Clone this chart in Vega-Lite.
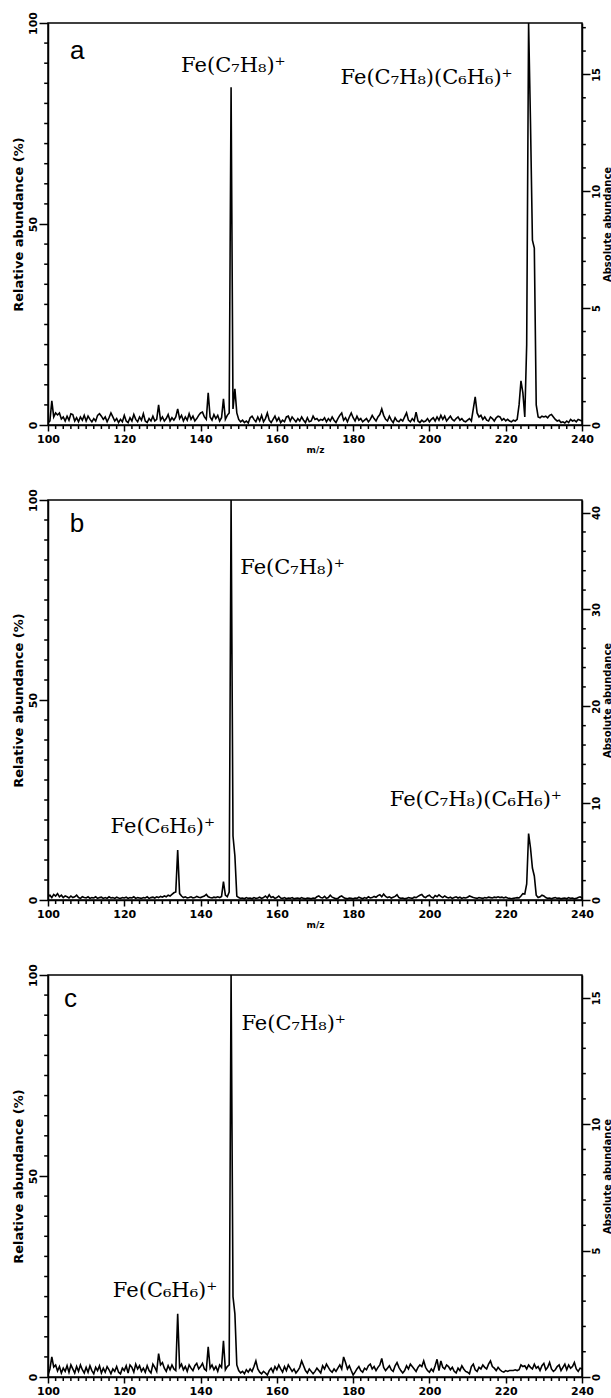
{
"$schema":"https://vega.github.io/schema/vega-lite/v6.json",
"background":"white",
"padding":{"left":11,"top":10,"right":0,"bottom":0},
"spacing":32,
"config":{"view":{"stroke":"black","strokeWidth":1.5},
"axis":{"domainColor":"black","tickColor":"black","labelColor":"black","titleColor":"black","grid":false,"ticks":true,"labelFont":"DejaVu Sans","labelFontWeight":"bold","labelFontSize":11,"titleFont":"DejaVu Sans","titleFontWeight":"bold","labelFlush":false,"labelOverlap":false,"domainWidth":1.5,"tickWidth":1.5}},
"datasets":{
"spec":[
{"mz":100,"a":0.5,"b":0.8,"c":0.5},{"mz":100.5,"a":1.0,"b":1.2,"c":2.0},{"mz":101,"a":6.0,"b":0.6,"c":5.0},{"mz":101.5,"a":2.0,"b":1.4,"c":2.5},{"mz":102,"a":3.0,"b":1.0,"c":3.0},{"mz":102.5,"a":2.5,"b":1.6,"c":1.5},{"mz":103,"a":3.0,"b":0.8,"c":2.6},{"mz":103.5,"a":1.5,"b":1.2,"c":1.0},{"mz":104,"a":2.0,"b":0.6,"c":2.2},{"mz":104.5,"a":1.0,"b":1.0,"c":1.4},
{"mz":105,"a":2.2,"b":0.8,"c":2.8},{"mz":105.5,"a":1.2,"b":0.5,"c":1.2},{"mz":106,"a":2.8,"b":1.0,"c":3.0},{"mz":106.5,"a":2.6,"b":0.6,"c":2.0},{"mz":107,"a":1.0,"b":0.8,"c":1.0},{"mz":107.5,"a":1.8,"b":1.2,"c":2.6},{"mz":108,"a":0.8,"b":0.6,"c":1.4},{"mz":108.5,"a":2.0,"b":0.4,"c":3.0},{"mz":109,"a":1.2,"b":0.8,"c":1.8},{"mz":109.5,"a":2.4,"b":0.6,"c":1.0},
{"mz":110,"a":1.0,"b":0.5,"c":2.4},{"mz":110.5,"a":2.2,"b":0.8,"c":1.2},{"mz":111,"a":1.4,"b":0.4,"c":2.8},{"mz":111.5,"a":0.8,"b":0.6,"c":1.6},{"mz":112,"a":1.6,"b":0.5,"c":0.8},{"mz":112.5,"a":1.0,"b":0.8,"c":2.4},{"mz":113,"a":2.4,"b":0.4,"c":1.6},{"mz":113.5,"a":2.8,"b":0.6,"c":2.8},{"mz":114,"a":2.2,"b":0.7,"c":1.0},{"mz":114.5,"a":1.4,"b":0.4,"c":2.2},
{"mz":115,"a":2.0,"b":0.6,"c":1.2},{"mz":115.5,"a":0.8,"b":0.4,"c":2.6},{"mz":116,"a":1.8,"b":0.8,"c":1.8},{"mz":116.5,"a":3.0,"b":0.5,"c":0.8},{"mz":117,"a":2.0,"b":0.6,"c":2.0},{"mz":117.5,"a":1.0,"b":0.4,"c":1.4},{"mz":118,"a":1.6,"b":0.7,"c":2.6},{"mz":118.5,"a":0.6,"b":0.5,"c":1.2},{"mz":119,"a":1.4,"b":0.4,"c":0.8},{"mz":119.5,"a":0.8,"b":0.6,"c":2.2},
{"mz":120,"a":2.4,"b":0.5,"c":1.6},{"mz":120.5,"a":1.0,"b":0.7,"c":2.8},{"mz":121,"a":0.6,"b":0.4,"c":1.0},{"mz":121.5,"a":1.8,"b":0.6,"c":3.0},{"mz":122,"a":1.0,"b":0.5,"c":2.4},{"mz":122.5,"a":2.6,"b":0.8,"c":1.2},{"mz":123,"a":1.4,"b":0.4,"c":3.2},{"mz":123.5,"a":0.8,"b":0.6,"c":2.0},{"mz":124,"a":2.0,"b":0.5,"c":2.8},{"mz":124.5,"a":1.2,"b":0.4,"c":1.4},
{"mz":125,"a":2.8,"b":0.6,"c":2.2},{"mz":125.5,"a":1.0,"b":0.5,"c":1.2},{"mz":126,"a":0.6,"b":0.8,"c":2.8},{"mz":126.5,"a":1.6,"b":0.4,"c":1.6},{"mz":127,"a":1.0,"b":0.6,"c":1.0},{"mz":127.5,"a":2.2,"b":0.7,"c":3.2},{"mz":128,"a":1.0,"b":0.5,"c":2.4},{"mz":128.5,"a":1.4,"b":0.8,"c":1.4},{"mz":129,"a":5.0,"b":0.6,"c":5.8},{"mz":129.5,"a":1.2,"b":0.9,"c":3.0},
{"mz":130,"a":2.0,"b":0.7,"c":3.6},{"mz":130.5,"a":1.0,"b":1.0,"c":2.2},{"mz":131,"a":1.6,"b":0.8,"c":1.4},{"mz":131.5,"a":2.6,"b":1.2,"c":2.8},{"mz":132,"a":1.0,"b":1.0,"c":1.8},{"mz":132.5,"a":1.8,"b":1.4,"c":3.0},{"mz":133,"a":1.2,"b":1.8,"c":2.0},{"mz":133.5,"a":2.0,"b":2.0,"c":1.6},{"mz":134,"a":4.0,"b":12.5,"c":15.7},{"mz":134.5,"a":1.6,"b":1.6,"c":2.4},
{"mz":135,"a":2.4,"b":1.0,"c":3.2},{"mz":135.5,"a":1.0,"b":0.6,"c":1.8},{"mz":136,"a":2.0,"b":0.8,"c":2.6},{"mz":136.5,"a":1.2,"b":0.5,"c":1.4},{"mz":137,"a":2.8,"b":0.6,"c":3.0},{"mz":137.5,"a":1.4,"b":0.8,"c":2.2},{"mz":138,"a":2.2,"b":0.5,"c":1.6},{"mz":138.5,"a":1.0,"b":0.6,"c":2.8},{"mz":139,"a":1.6,"b":0.9,"c":3.4},{"mz":139.5,"a":2.4,"b":0.7,"c":2.0},
{"mz":140,"a":3.0,"b":0.6,"c":2.6},{"mz":140.5,"a":3.2,"b":0.8,"c":3.4},{"mz":141,"a":2.0,"b":1.0,"c":2.0},{"mz":141.5,"a":1.4,"b":1.4,"c":1.6},{"mz":142,"a":8.0,"b":0.8,"c":7.5},{"mz":142.5,"a":2.0,"b":0.6,"c":2.2},{"mz":143,"a":1.2,"b":0.5,"c":3.0},{"mz":143.5,"a":2.6,"b":0.7,"c":1.8},{"mz":144,"a":1.6,"b":0.6,"c":2.6},{"mz":144.5,"a":2.4,"b":0.8,"c":1.4},
{"mz":145,"a":1.0,"b":0.6,"c":3.0},{"mz":145.5,"a":1.8,"b":0.9,"c":2.4},{"mz":146,"a":6.5,"b":4.6,"c":9.0},{"mz":146.5,"a":1.4,"b":1.2,"c":1.8},{"mz":147,"a":2.4,"b":0.8,"c":2.6},{"mz":147.5,"a":3.0,"b":2.0,"c":3.0},{"mz":148,"a":84.0,"b":100,"c":100},{"mz":148.5,"a":4.0,"b":16,"c":20},{"mz":149,"a":9.0,"b":11,"c":15.7},{"mz":149.5,"a":3.0,"b":1.0,"c":3.0},
{"mz":150,"a":1.4,"b":0.6,"c":1.6},{"mz":150.5,"a":0.8,"b":0.4,"c":1.0},{"mz":151,"a":1.2,"b":0.5,"c":1.4},{"mz":151.5,"a":0.6,"b":0.3,"c":0.8},{"mz":152,"a":1.0,"b":0.6,"c":1.8},{"mz":152.5,"a":0.5,"b":0.4,"c":1.2},{"mz":153,"a":1.8,"b":0.5,"c":2.0},{"mz":153.5,"a":2.2,"b":0.3,"c":1.4},{"mz":154,"a":1.4,"b":0.6,"c":2.6},{"mz":154.5,"a":0.8,"b":0.4,"c":4.0},
{"mz":155,"a":2.0,"b":0.5,"c":2.0},{"mz":155.5,"a":1.0,"b":0.7,"c":1.2},{"mz":156,"a":2.4,"b":0.4,"c":0.8},{"mz":156.5,"a":0.8,"b":0.6,"c":1.4},{"mz":157,"a":1.6,"b":1.0,"c":1.0},{"mz":157.5,"a":3.0,"b":0.5,"c":0.5},{"mz":158,"a":1.2,"b":1.3,"c":1.6},{"mz":158.5,"a":0.6,"b":0.6,"c":2.2},{"mz":159,"a":1.4,"b":0.8,"c":1.2},{"mz":159.5,"a":2.2,"b":0.4,"c":2.6},
{"mz":160,"a":1.0,"b":0.6,"c":1.8},{"mz":160.5,"a":1.8,"b":1.0,"c":3.0},{"mz":161,"a":0.6,"b":0.5,"c":2.0},{"mz":161.5,"a":1.2,"b":0.4,"c":1.2},{"mz":162,"a":0.8,"b":0.6,"c":2.6},{"mz":162.5,"a":2.0,"b":0.3,"c":1.6},{"mz":163,"a":2.2,"b":0.5,"c":3.0},{"mz":163.5,"a":1.0,"b":0.4,"c":2.2},{"mz":164,"a":2.0,"b":0.6,"c":1.4},{"mz":164.5,"a":1.4,"b":0.3,"c":2.0},
{"mz":165,"a":0.8,"b":0.4,"c":1.0},{"mz":165.5,"a":1.6,"b":0.5,"c":1.6},{"mz":166,"a":1.0,"b":0.3,"c":2.4},{"mz":166.5,"a":2.0,"b":0.6,"c":4.0},{"mz":167,"a":1.2,"b":0.4,"c":2.8},{"mz":167.5,"a":0.6,"b":0.3,"c":1.6},{"mz":168,"a":1.8,"b":0.5,"c":1.0},{"mz":168.5,"a":0.8,"b":0.4,"c":2.0},{"mz":169,"a":1.0,"b":0.3,"c":1.4},{"mz":169.5,"a":2.2,"b":0.5,"c":0.8},
{"mz":170,"a":1.4,"b":0.4,"c":1.4},{"mz":170.5,"a":1.6,"b":0.8,"c":2.2},{"mz":171,"a":1.0,"b":1.0,"c":1.6},{"mz":171.5,"a":1.4,"b":0.6,"c":1.0},{"mz":172,"a":1.2,"b":0.5,"c":2.8},{"mz":172.5,"a":1.8,"b":0.9,"c":2.0},{"mz":173,"a":0.8,"b":0.4,"c":3.2},{"mz":173.5,"a":1.6,"b":0.6,"c":2.4},{"mz":174,"a":1.0,"b":1.2,"c":1.6},{"mz":174.5,"a":2.0,"b":0.7,"c":1.2},
{"mz":175,"a":1.2,"b":0.5,"c":2.0},{"mz":175.5,"a":0.6,"b":0.3,"c":1.4},{"mz":176,"a":1.6,"b":0.4,"c":2.2},{"mz":176.5,"a":2.4,"b":0.8,"c":3.0},{"mz":177,"a":3.0,"b":1.0,"c":2.0},{"mz":177.5,"a":1.2,"b":0.6,"c":5.0},{"mz":178,"a":1.8,"b":0.4,"c":3.6},{"mz":178.5,"a":0.8,"b":0.3,"c":2.0},{"mz":179,"a":2.0,"b":0.5,"c":2.8},{"mz":179.5,"a":3.0,"b":0.4,"c":1.6},
{"mz":180,"a":1.8,"b":0.3,"c":0.5},{"mz":180.5,"a":1.0,"b":0.5,"c":1.2},{"mz":181,"a":2.2,"b":0.4,"c":2.0},{"mz":181.5,"a":1.2,"b":0.7,"c":2.6},{"mz":182,"a":1.6,"b":0.5,"c":1.6},{"mz":182.5,"a":0.8,"b":0.3,"c":1.2},{"mz":183,"a":1.2,"b":0.6,"c":2.2},{"mz":183.5,"a":1.6,"b":0.4,"c":1.8},{"mz":184,"a":0.8,"b":0.8,"c":2.8},{"mz":184.5,"a":1.4,"b":0.5,"c":3.2},
{"mz":185,"a":2.4,"b":0.6,"c":2.0},{"mz":185.5,"a":1.6,"b":0.9,"c":2.6},{"mz":186,"a":1.0,"b":0.7,"c":1.6},{"mz":186.5,"a":2.0,"b":1.1,"c":2.4},{"mz":187,"a":2.6,"b":1.3,"c":3.0},{"mz":187.5,"a":4.0,"b":0.8,"c":4.6},{"mz":188,"a":2.4,"b":1.5,"c":2.4},{"mz":188.5,"a":1.4,"b":0.9,"c":1.6},{"mz":189,"a":1.0,"b":0.6,"c":2.2},{"mz":189.5,"a":2.2,"b":0.8,"c":2.8},
{"mz":190,"a":1.2,"b":0.5,"c":1.8},{"mz":190.5,"a":0.6,"b":0.7,"c":1.4},{"mz":191,"a":1.8,"b":0.9,"c":2.8},{"mz":191.5,"a":1.0,"b":1.3,"c":3.6},{"mz":192,"a":0.8,"b":0.6,"c":2.4},{"mz":192.5,"a":1.4,"b":0.4,"c":1.6},{"mz":193,"a":1.0,"b":0.5,"c":1.0},{"mz":193.5,"a":2.0,"b":0.3,"c":1.6},{"mz":194,"a":3.0,"b":0.4,"c":2.8},{"mz":194.5,"a":1.2,"b":0.6,"c":2.0},
{"mz":195,"a":0.8,"b":0.5,"c":3.2},{"mz":195.5,"a":1.6,"b":0.4,"c":2.6},{"mz":196,"a":1.0,"b":0.7,"c":2.0},{"mz":196.5,"a":3.2,"b":0.6,"c":1.4},{"mz":197,"a":1.0,"b":0.9,"c":2.4},{"mz":197.5,"a":0.6,"b":1.2,"c":3.0},{"mz":198,"a":1.2,"b":1.4,"c":2.6},{"mz":198.5,"a":0.8,"b":0.8,"c":4.0},{"mz":199,"a":1.0,"b":0.6,"c":2.4},{"mz":199.5,"a":1.6,"b":1.0,"c":1.6},
{"mz":200,"a":0.8,"b":1.2,"c":1.2},{"mz":200.5,"a":1.4,"b":0.7,"c":2.0},{"mz":201,"a":1.8,"b":0.5,"c":1.4},{"mz":201.5,"a":1.0,"b":1.1,"c":2.8},{"mz":202,"a":2.0,"b":0.8,"c":4.4},{"mz":202.5,"a":1.2,"b":1.3,"c":1.6},{"mz":203,"a":2.4,"b":0.9,"c":4.0},{"mz":203.5,"a":1.4,"b":0.6,"c":2.4},{"mz":204,"a":2.2,"b":1.0,"c":2.0},{"mz":204.5,"a":1.0,"b":0.7,"c":3.0},
{"mz":205,"a":1.6,"b":0.5,"c":2.6},{"mz":205.5,"a":2.2,"b":0.7,"c":1.8},{"mz":206,"a":1.4,"b":0.4,"c":2.4},{"mz":206.5,"a":1.0,"b":0.6,"c":1.4},{"mz":207,"a":1.6,"b":0.8,"c":1.0},{"mz":207.5,"a":2.0,"b":0.5,"c":2.2},{"mz":208,"a":1.2,"b":0.7,"c":1.6},{"mz":208.5,"a":1.6,"b":0.4,"c":2.8},{"mz":209,"a":1.0,"b":0.6,"c":2.0},{"mz":209.5,"a":0.8,"b":0.5,"c":1.4},
{"mz":210,"a":1.2,"b":0.7,"c":1.2},{"mz":210.5,"a":1.6,"b":1.0,"c":0.8},{"mz":211,"a":1.0,"b":0.8,"c":2.6},{"mz":211.5,"a":4.0,"b":0.6,"c":3.2},{"mz":212,"a":7.0,"b":0.5,"c":1.8},{"mz":212.5,"a":3.0,"b":0.4,"c":1.4},{"mz":213,"a":2.0,"b":0.6,"c":2.4},{"mz":213.5,"a":2.4,"b":0.5,"c":2.0},{"mz":214,"a":1.4,"b":0.4,"c":3.0},{"mz":214.5,"a":2.0,"b":0.6,"c":2.4},
{"mz":215,"a":1.2,"b":0.5,"c":2.0},{"mz":215.5,"a":1.0,"b":0.7,"c":3.2},{"mz":216,"a":2.0,"b":0.6,"c":4.0},{"mz":216.5,"a":1.6,"b":0.5,"c":2.6},{"mz":217,"a":1.0,"b":0.7,"c":2.2},{"mz":217.5,"a":1.8,"b":0.6,"c":1.6},{"mz":218,"a":2.2,"b":0.8,"c":2.4},{"mz":218.5,"a":2.0,"b":0.6,"c":1.8},{"mz":219,"a":1.2,"b":0.7,"c":1.4},{"mz":219.5,"a":1.6,"b":0.5,"c":1.2},
{"mz":220,"a":1.0,"b":0.7,"c":1.6},{"mz":220.5,"a":1.4,"b":0.5,"c":1.4},{"mz":221,"a":1.0,"b":0.4,"c":1.6},{"mz":221.5,"a":0.8,"b":0.3,"c":1.6},{"mz":222,"a":1.2,"b":0.4,"c":1.6},{"mz":222.5,"a":1.0,"b":0.5,"c":1.8},{"mz":223,"a":1.4,"b":0.6,"c":1.6},{"mz":223.5,"a":5.0,"b":0.5,"c":1.8},{"mz":224,"a":11.0,"b":1.0,"c":3.0},{"mz":224.5,"a":8.0,"b":1.6,"c":2.6},
{"mz":225,"a":2.0,"b":1.5,"c":2.8},{"mz":225.5,"a":20.0,"b":4.0,"c":2.0},{"mz":226,"a":100,"b":16.6,"c":3.0},{"mz":226.5,"a":75.0,"b":13.0,"c":2.4},{"mz":227,"a":46.0,"b":8.0,"c":2.0},{"mz":227.5,"a":44.0,"b":6.0,"c":3.2},{"mz":228,"a":5.0,"b":1.2,"c":2.2},{"mz":228.5,"a":2.0,"b":0.6,"c":2.6},{"mz":229,"a":1.8,"b":0.8,"c":1.6},{"mz":229.5,"a":2.2,"b":1.2,"c":2.8},
{"mz":230,"a":2.0,"b":1.0,"c":3.4},{"mz":230.5,"a":2.2,"b":0.6,"c":1.8},{"mz":231,"a":1.8,"b":0.4,"c":2.4},{"mz":231.5,"a":2.4,"b":0.5,"c":3.6},{"mz":232,"a":2.6,"b":0.3,"c":2.0},{"mz":232.5,"a":2.0,"b":0.5,"c":1.4},{"mz":233,"a":1.4,"b":0.6,"c":1.8},{"mz":233.5,"a":1.0,"b":0.4,"c":2.6},{"mz":234,"a":1.2,"b":0.5,"c":3.0},{"mz":234.5,"a":0.6,"b":0.3,"c":1.6},
{"mz":235,"a":0.8,"b":0.4,"c":2.4},{"mz":235.5,"a":0.5,"b":0.5,"c":3.2},{"mz":236,"a":1.0,"b":0.3,"c":1.8},{"mz":236.5,"a":0.6,"b":0.6,"c":3.0},{"mz":237,"a":1.4,"b":0.4,"c":2.2},{"mz":237.5,"a":1.0,"b":0.5,"c":2.6},{"mz":238,"a":1.2,"b":0.3,"c":3.6},{"mz":238.5,"a":0.8,"b":0.4,"c":2.0},{"mz":239,"a":1.4,"b":0.6,"c":1.4},{"mz":239.5,"a":1.2,"b":0.8,"c":2.2},
{"mz":240,"a":1.0,"b":0.5,"c":2.0}
],
"labels":[
{"p":"a","k":"L","mz":105.8,"r":91,"t":"a"},
{"p":"a","k":"F","mz":134.9,"r":87.8,"t":"Fe(C₇H₈)⁺"},
{"p":"a","k":"F","mz":176.7,"r":84.8,"t":"Fe(C₇H₈)(C₆H₆)⁺"},
{"p":"b","k":"L","mz":105.7,"r":92,"t":"b"},
{"p":"b","k":"F","mz":150.4,"r":81.5,"t":"Fe(C₇H₈)⁺"},
{"p":"b","k":"F","mz":116.4,"r":16.7,"t":"Fe(C₆H₆)⁺"},
{"p":"b","k":"F","mz":189.6,"r":23.4,"t":"Fe(C₇H₈)(C₆H₆)⁺"},
{"p":"c","k":"L","mz":104.2,"r":92,"t":"c"},
{"p":"c","k":"F","mz":150.7,"r":86.3,"t":"Fe(C₇H₈)⁺"},
{"p":"c","k":"F","mz":117,"r":19.9,"t":"Fe(C₆H₆)⁺"}
],
"xminor":[{"v":102},{"v":104},{"v":106},{"v":108},{"v":110},{"v":112},{"v":114},{"v":116},{"v":118},{"v":122},{"v":124},{"v":126},{"v":128},{"v":130},{"v":132},{"v":134},{"v":136},{"v":138},{"v":142},{"v":144},{"v":146},{"v":148},{"v":150},{"v":152},{"v":154},{"v":156},{"v":158},{"v":162},{"v":164},{"v":166},{"v":168},{"v":170},{"v":172},{"v":174},{"v":176},{"v":178},{"v":182},{"v":184},{"v":186},{"v":188},{"v":190},{"v":192},{"v":194},{"v":196},{"v":198},{"v":202},{"v":204},{"v":206},{"v":208},{"v":210},{"v":212},{"v":214},{"v":216},{"v":218},{"v":222},{"v":224},{"v":226},{"v":228},{"v":230},{"v":232},{"v":234},{"v":236},{"v":238}],
"yminor":[{"v":5},{"v":10},{"v":15},{"v":20},{"v":25},{"v":30},{"v":35},{"v":40},{"v":45},{"v":55},{"v":60},{"v":65},{"v":70},{"v":75},{"v":80},{"v":85},{"v":90},{"v":95}],
"rminA":[{"v":1},{"v":2},{"v":3},{"v":4},{"v":6},{"v":7},{"v":8},{"v":9},{"v":11},{"v":12},{"v":13},{"v":14},{"v":16},{"v":17}],
"rminB":[{"v":2},{"v":4},{"v":6},{"v":8},{"v":12},{"v":14},{"v":16},{"v":18},{"v":22},{"v":24},{"v":26},{"v":28},{"v":32},{"v":34},{"v":36},{"v":38}],
"rminC":[{"v":1},{"v":2},{"v":3},{"v":4},{"v":6},{"v":7},{"v":8},{"v":9},{"v":11},{"v":12},{"v":13},{"v":14}]
},
"vconcat":[
{"width":534,"height":402,
"layer":[
{"layer":[
{"data":{"name":"spec"},"mark":{"type":"line","color":"black","strokeWidth":1.6,"clip":true},
"encoding":{
"x":{"field":"mz","type":"quantitative","scale":{"domain":[100,240],"nice":false,"zero":false},
"axis":{"values":[100,120,140,160,180,200,220,240],"tickSize":6,"labelPadding":2,"title":"m/z","titleFontSize":9,"titlePadding":1}},
"y":{"field":"a","type":"quantitative","scale":{"domain":[0,100],"nice":false},
"axis":{"values":[0,50,100],"tickSize":9,"labelAngle":270,"labelAlign":"center","labelBaseline":"bottom","labelPadding":1,"title":"Relative abundance (%)","titleFontSize":13,"titlePadding":2}}}},
{"data":{"name":"xminor"},"mark":{"type":"rule","color":"black","strokeWidth":1.5,"clip":false},
"encoding":{"x":{"field":"v","type":"quantitative","title":"m/z"},"y":{"datum":0,"type":"quantitative"},"y2":{"datum":-1}}},
{"data":{"name":"yminor"},"mark":{"type":"rule","color":"black","strokeWidth":1.5,"clip":false},
"encoding":{"y":{"field":"v","type":"quantitative","title":"Relative abundance (%)"},"x":{"datum":100,"type":"quantitative"},"x2":{"datum":99}}},
{"data":{"name":"labels"},"transform":[{"filter":"datum.p==='a' && datum.k==='F'"}],
"mark":{"type":"text","font":"DejaVu Serif","fontSize":21,"align":"left","baseline":"alphabetic","color":"black"},
"encoding":{"x":{"field":"mz","type":"quantitative","title":"m/z"},"y":{"field":"r","type":"quantitative","title":"Relative abundance (%)"},"text":{"field":"t"}}},
{"data":{"name":"labels"},"transform":[{"filter":"datum.p==='a' && datum.k==='L'"}],
"mark":{"type":"text","font":"Liberation Sans","fontSize":26,"align":"left","baseline":"alphabetic","color":"black"},
"encoding":{"x":{"field":"mz","type":"quantitative","title":"m/z"},"y":{"field":"r","type":"quantitative","title":"Relative abundance (%)"},"text":{"field":"t"}}}
]},
{"data":{"name":"rminA"},"mark":{"type":"rule","color":"black","strokeWidth":1.5,"clip":false},
"encoding":{"x":{"datum":240,"type":"quantitative"},"x2":{"datum":241},"y":{"field":"v","type":"quantitative","scale":{"domain":[0,17.2],"nice":false},
"axis":{"orient":"right","values":[0,5,10,15],"tickSize":8,"labelAngle":270,"labelAlign":"center","labelBaseline":"top","labelPadding":1,"labelFontSize":10,"title":"Absolute abundance","titleAngle":270,"titleFontSize":10,"titleX":25,"titleBaseline":"middle","titleAlign":"center"}}}}
],
"resolve":{"scale":{"y":"independent"}}},
{"width":534,"height":400,
"layer":[
{"layer":[
{"data":{"name":"spec"},"mark":{"type":"line","color":"black","strokeWidth":1.6,"clip":true},
"encoding":{
"x":{"field":"mz","type":"quantitative","scale":{"domain":[100,240],"nice":false,"zero":false},
"axis":{"values":[100,120,140,160,180,200,220,240],"tickSize":6,"labelPadding":2,"title":"m/z","titleFontSize":9,"titlePadding":1}},
"y":{"field":"b","type":"quantitative","scale":{"domain":[0,100],"nice":false},
"axis":{"values":[0,50,100],"tickSize":9,"labelAngle":270,"labelAlign":"center","labelBaseline":"bottom","labelPadding":1,"title":"Relative abundance (%)","titleFontSize":13,"titlePadding":2}}}},
{"data":{"name":"xminor"},"mark":{"type":"rule","color":"black","strokeWidth":1.5,"clip":false},
"encoding":{"x":{"field":"v","type":"quantitative","title":"m/z"},"y":{"datum":0,"type":"quantitative"},"y2":{"datum":-1}}},
{"data":{"name":"yminor"},"mark":{"type":"rule","color":"black","strokeWidth":1.5,"clip":false},
"encoding":{"y":{"field":"v","type":"quantitative","title":"Relative abundance (%)"},"x":{"datum":100,"type":"quantitative"},"x2":{"datum":99}}},
{"data":{"name":"labels"},"transform":[{"filter":"datum.p==='b' && datum.k==='F'"}],
"mark":{"type":"text","font":"DejaVu Serif","fontSize":21,"align":"left","baseline":"alphabetic","color":"black"},
"encoding":{"x":{"field":"mz","type":"quantitative","title":"m/z"},"y":{"field":"r","type":"quantitative","title":"Relative abundance (%)"},"text":{"field":"t"}}},
{"data":{"name":"labels"},"transform":[{"filter":"datum.p==='b' && datum.k==='L'"}],
"mark":{"type":"text","font":"Liberation Sans","fontSize":26,"align":"left","baseline":"alphabetic","color":"black"},
"encoding":{"x":{"field":"mz","type":"quantitative","title":"m/z"},"y":{"field":"r","type":"quantitative","title":"Relative abundance (%)"},"text":{"field":"t"}}}
]},
{"data":{"name":"rminB"},"mark":{"type":"rule","color":"black","strokeWidth":1.5,"clip":false},
"encoding":{"x":{"datum":240,"type":"quantitative"},"x2":{"datum":241},"y":{"field":"v","type":"quantitative","scale":{"domain":[0,41.3],"nice":false},
"axis":{"orient":"right","values":[0,10,20,30,40],"tickSize":8,"labelAngle":270,"labelAlign":"center","labelBaseline":"top","labelPadding":1,"labelFontSize":10,"title":"Absolute abundance","titleAngle":270,"titleFontSize":10,"titleX":25,"titleBaseline":"middle","titleAlign":"center"}}}}
],
"resolve":{"scale":{"y":"independent"}}},
{"width":534,"height":402,
"layer":[
{"layer":[
{"data":{"name":"spec"},"mark":{"type":"line","color":"black","strokeWidth":1.6,"clip":true},
"encoding":{
"x":{"field":"mz","type":"quantitative","scale":{"domain":[100,240],"nice":false,"zero":false},
"axis":{"values":[100,120,140,160,180,200,220,240],"tickSize":6,"labelPadding":2,"title":"m/z","titleFontSize":9,"titlePadding":1}},
"y":{"field":"c","type":"quantitative","scale":{"domain":[0,100],"nice":false},
"axis":{"values":[0,50,100],"tickSize":9,"labelAngle":270,"labelAlign":"center","labelBaseline":"bottom","labelPadding":1,"title":"Relative abundance (%)","titleFontSize":13,"titlePadding":2}}}},
{"data":{"name":"xminor"},"mark":{"type":"rule","color":"black","strokeWidth":1.5,"clip":false},
"encoding":{"x":{"field":"v","type":"quantitative","title":"m/z"},"y":{"datum":0,"type":"quantitative"},"y2":{"datum":-1}}},
{"data":{"name":"yminor"},"mark":{"type":"rule","color":"black","strokeWidth":1.5,"clip":false},
"encoding":{"y":{"field":"v","type":"quantitative","title":"Relative abundance (%)"},"x":{"datum":100,"type":"quantitative"},"x2":{"datum":99}}},
{"data":{"name":"labels"},"transform":[{"filter":"datum.p==='c' && datum.k==='F'"}],
"mark":{"type":"text","font":"DejaVu Serif","fontSize":21,"align":"left","baseline":"alphabetic","color":"black"},
"encoding":{"x":{"field":"mz","type":"quantitative","title":"m/z"},"y":{"field":"r","type":"quantitative","title":"Relative abundance (%)"},"text":{"field":"t"}}},
{"data":{"name":"labels"},"transform":[{"filter":"datum.p==='c' && datum.k==='L'"}],
"mark":{"type":"text","font":"Liberation Sans","fontSize":26,"align":"left","baseline":"alphabetic","color":"black"},
"encoding":{"x":{"field":"mz","type":"quantitative","title":"m/z"},"y":{"field":"r","type":"quantitative","title":"Relative abundance (%)"},"text":{"field":"t"}}}
]},
{"data":{"name":"rminC"},"mark":{"type":"rule","color":"black","strokeWidth":1.5,"clip":false},
"encoding":{"x":{"datum":240,"type":"quantitative"},"x2":{"datum":241},"y":{"field":"v","type":"quantitative","scale":{"domain":[0,15.9],"nice":false},
"axis":{"orient":"right","values":[0,5,10,15],"tickSize":8,"labelAngle":270,"labelAlign":"center","labelBaseline":"top","labelPadding":1,"labelFontSize":10,"title":"Absolute abundance","titleAngle":270,"titleFontSize":10,"titleX":25,"titleBaseline":"middle","titleAlign":"center"}}}}
],
"resolve":{"scale":{"y":"independent"}}}
]
}
